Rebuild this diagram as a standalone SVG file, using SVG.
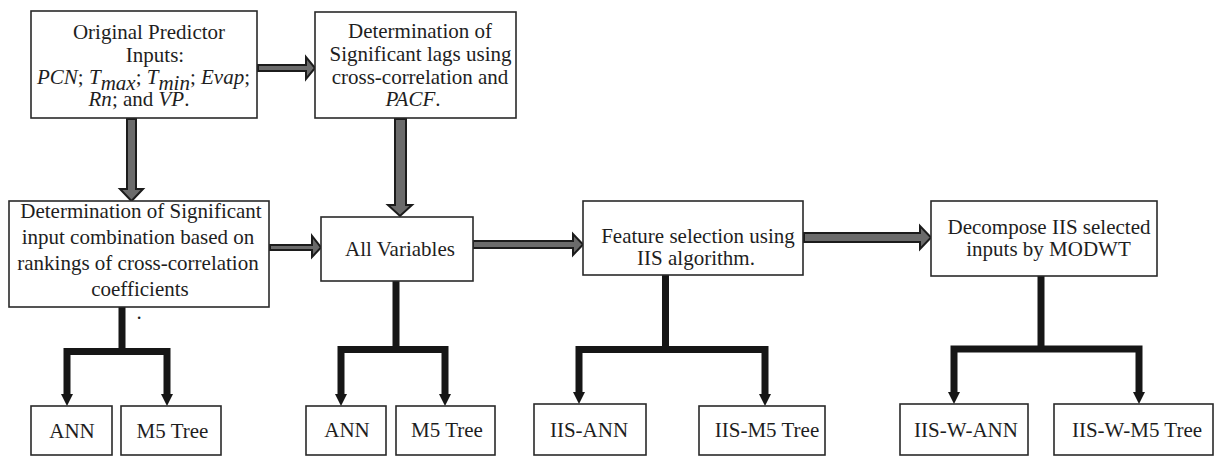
<svg xmlns="http://www.w3.org/2000/svg" width="1215" height="456" viewBox="0 0 1215 456">
  <style>
    .box { fill: #ffffff; stroke: #2a2a2a; stroke-width: 1.6; }
    .lbl { font-family: "Liberation Serif", "Times New Roman", serif; font-size: 21px; fill: #1e1e1e; text-anchor: middle; }
    .it { font-style: italic; }
    .block { fill: #6b6b6b; stroke: #1c1c1c; stroke-width: 2; stroke-linejoin: miter; }
    .tree { fill: none; stroke: #161616; stroke-width: 7; stroke-linejoin: miter; stroke-linecap: butt; }
    .head { fill: #161616; stroke: none; }
  </style>

  <rect width="1215" height="456" fill="#ffffff"/>

  <!-- connectors: grey block arrows between stages, black trees down to the models -->
  <g id="connectors">
    <polygon class="block" points="258,65 306,65 306,57 315,68 306,79 306,71 258,71"/>
    <polygon class="block" points="127,119 136,119 136,189 143,189 131.5,201 120,189 127,189"/>
    <polygon class="block" points="395,119 406,119 406,205 412,205 400,216 388,205 395,205"/>
    <polygon class="block" points="270,245 312,245 312,236 321,247.5 312,257 312,250 270,250"/>
    <polygon class="block" points="473,241 573,241 573,234 583,244.5 573,255 573,248 473,248"/>
    <polygon class="block" points="804,233 920,233 920,226 931,237.5 920,249 920,242 804,242"/>

    <path class="tree" d="M122,307 V351.5 M67,395 V351.5 H167 V395"/>
    <polygon class="head" points="61,394 73,394 67,406"/>
    <polygon class="head" points="161,394 173,394 167,406"/>

    <path class="tree" d="M396,281 V349.5 M341,395 V349.5 H445 V395"/>
    <polygon class="head" points="335,394 347,394 341,406"/>
    <polygon class="head" points="439,394 451,394 445,406"/>

    <path class="tree" d="M665.5,275 V349.5 M579,393 V349.5 H765 V395"/>
    <polygon class="head" points="573,392 585,392 579,404"/>
    <polygon class="head" points="759,394 771,394 765,406"/>

    <path class="tree" d="M1041,276 V349 M954,393 V349 H1139 V393"/>
    <polygon class="head" points="948,392 960,392 954,404"/>
    <polygon class="head" points="1133,392 1145,392 1139,404"/>
  </g>

  <g id="original-inputs">
    <rect class="box" x="31" y="11" width="226" height="107"/>
    <text class="lbl" x="149" y="39">Original Predictor</text>
    <text class="lbl" x="155" y="61.5">Inputs:</text>
    <text class="lbl" x="143.5" y="84"><tspan class="it">PCN</tspan>; <tspan class="it">T</tspan><tspan class="it" dy="5.5">max</tspan><tspan dy="-5.5">; </tspan><tspan class="it">T</tspan><tspan class="it" dy="5.5">min</tspan><tspan dy="-5.5">; </tspan><tspan class="it">Evap</tspan>;</text>
    <text class="lbl" x="139" y="106"><tspan class="it">Rn</tspan>; and <tspan class="it">VP</tspan>.</text>
  </g>

  <g id="significant-lags">
    <rect class="box" x="315" y="12" width="201" height="106"/>
    <text class="lbl" x="420" y="37.5">Determination of</text>
    <text class="lbl" x="420.5" y="61">Significant lags using</text>
    <text class="lbl" x="420" y="83.5">cross-correlation and</text>
    <text class="lbl" x="413" y="106"><tspan class="it">PACF</tspan>.</text>
  </g>

  <g id="input-combination">
    <rect class="box" x="9" y="201" width="260" height="106"/>
    <text class="lbl" x="141" y="218">Determination of Significant</text>
    <text class="lbl" x="138" y="244">input combination based on</text>
    <text class="lbl" x="138" y="270">rankings of cross-correlation</text>
    <text class="lbl" x="140" y="296">coefficients</text>
    <text class="lbl" x="139" y="319">.</text>
  </g>

  <g id="all-variables">
    <rect class="box" x="321" y="217" width="152" height="64"/>
    <text class="lbl" x="400" y="256">All Variables</text>
  </g>

  <g id="feature-selection">
    <rect class="box" x="583" y="201" width="220" height="74"/>
    <text class="lbl" x="698" y="243">Feature selection using</text>
    <text class="lbl" x="696" y="265">IIS algorithm.</text>
  </g>

  <g id="decompose">
    <rect class="box" x="931" y="201" width="226" height="75"/>
    <text class="lbl" x="1049" y="234">Decompose IIS selected</text>
    <text class="lbl" x="1048.5" y="256">inputs by MODWT</text>
  </g>

  <g id="ann-1">
    <rect class="box" x="31" y="406" width="81" height="49"/>
    <text class="lbl" x="72" y="438">ANN</text>
  </g>
  <g id="m5-1">
    <rect class="box" x="121" y="406" width="100" height="49"/>
    <text class="lbl" x="172.5" y="438">M5 Tree</text>
  </g>

  <g id="ann-2">
    <rect class="box" x="306" y="406" width="80" height="49"/>
    <text class="lbl" x="347" y="437">ANN</text>
  </g>
  <g id="m5-2">
    <rect class="box" x="396" y="406" width="99" height="49"/>
    <text class="lbl" x="447" y="437">M5 Tree</text>
  </g>

  <g id="iis-ann">
    <rect class="box" x="534" y="404" width="112" height="51"/>
    <text class="lbl" x="589" y="437">IIS-ANN</text>
  </g>
  <g id="iis-m5">
    <rect class="box" x="699" y="406" width="126" height="49"/>
    <text class="lbl" x="767" y="437">IIS-M5 Tree</text>
  </g>

  <g id="iis-w-ann">
    <rect class="box" x="900" y="404" width="128" height="51"/>
    <text class="lbl" x="966" y="437">IIS-W-ANN</text>
  </g>
  <g id="iis-w-m5">
    <rect class="box" x="1054" y="404" width="159" height="51"/>
    <text class="lbl" x="1137" y="437">IIS-W-M5 Tree</text>
  </g>
</svg>
